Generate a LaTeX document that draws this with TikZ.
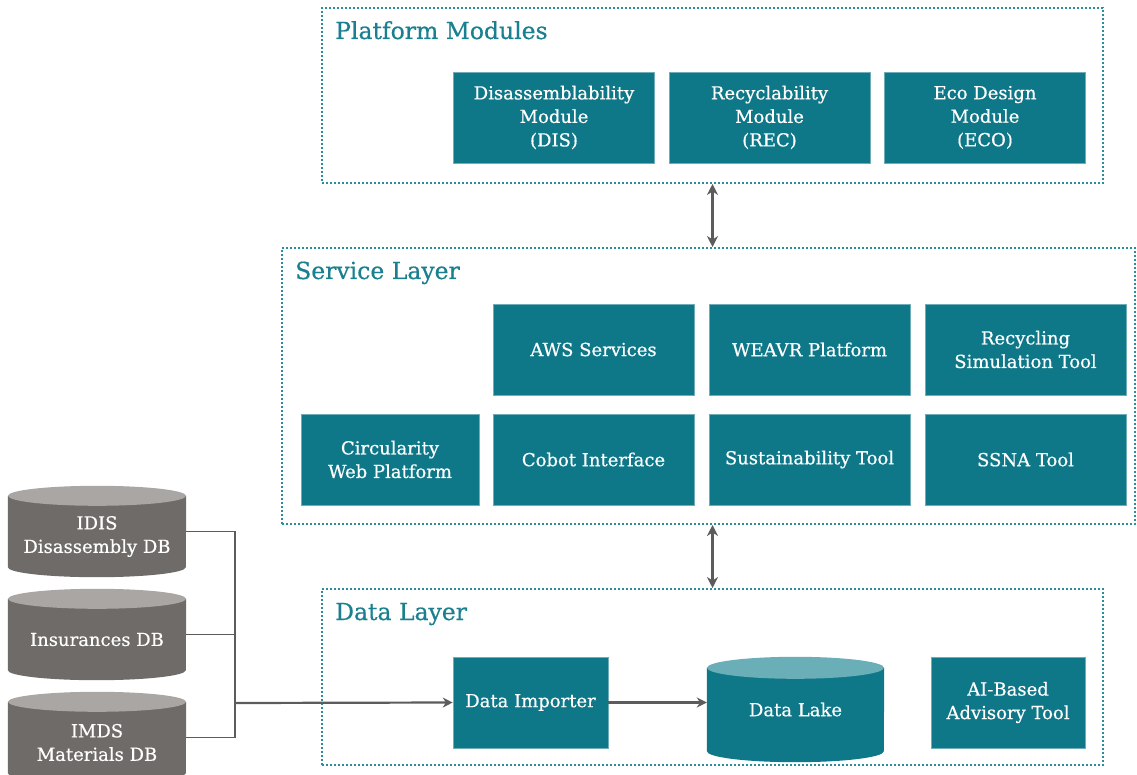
\documentclass[tikz,border=0pt]{standalone}
\usepackage{fontspec}
\setmainfont{DejaVu Serif}[FakeBold=0.5]
\usetikzlibrary{arrows.meta}
\pgfdeclarelayer{background}
\pgfsetlayers{background,main}

\definecolor{boxteal}{HTML}{0F7888}
\definecolor{titleteal}{HTML}{1A7F8E}
\definecolor{dotteal}{HTML}{2A8D9B}
\definecolor{laketop}{HTML}{6AAEB8}
\definecolor{dbbody}{HTML}{6F6B68}
\definecolor{dbtop}{HTML}{A9A6A4}
\definecolor{linegrey}{HTML}{5C5C5C}

% cylinder drawn behind a named rectangular node:
% #1 node name, #2 body colour, #3 top colour, #4 x radius, #5 y radius,
% #6 distance from the node's top edge down to the centre of the top face
\newcommand\drumshape[6]{%
  \begin{pgfonlayer}{background}
    \fill[#2] ([yshift=-#6]#1.north west) -- ([yshift=#5]#1.south west)
      arc[start angle=180,end angle=360,x radius=#4,y radius=#5]
      -- ([yshift=-#6]#1.north east) -- cycle;
    \fill[#3] ([yshift=-#6]#1.north) ellipse[x radius=#4,y radius=#5];
  \end{pgfonlayer}}

\begin{document}
\begin{tikzpicture}[x=1pt,y=-1pt,
  frame/.style={draw=dotteal,line width=2pt,dash pattern=on 2pt off 2pt,
    inner sep=0,fill=none},
  layertitle/.style={text=titleteal,anchor=base west,inner sep=0,
    font=\fontsize{23.5}{28}\selectfont},
  module/.style={fill=boxteal,draw=boxteal!60!white,line width=0.6pt,text=white,
    inner sep=0,align=center,minimum width=201pt,minimum height=91pt,
    font=\fontsize{18}{23.5}\selectfont},
  drum/.style={text=white,inner sep=0,align=center,minimum width=178pt,
    minimum height=91pt,font=\fontsize{18}{23.5}\selectfont},
  biarrow/.style={draw=linegrey,line width=2.4pt,{Stealth[length=11pt,width=11pt]}-{Stealth[length=11pt,width=11pt]}},
  feed/.style={draw=linegrey,line width=2.2pt,-{Stealth[length=10pt,width=10pt]}},
  link/.style={draw=linegrey,line width=1.6pt}]

\useasboundingbox (0,0) rectangle (1137,775);

% layer frames
\node[frame,minimum width=781pt,minimum height=175pt] (pm) at (712.5,95.5) {};
\node[frame,minimum width=853pt,minimum height=276pt] (sl) at (708.5,386) {};
\node[frame,minimum width=781pt,minimum height=176pt] (dl) at (712.5,677) {};

\node[layertitle] (pmt) at (335,39) {Platform Modules};
\node[layertitle] (slt) at (295,279) {Service Layer};
\node[layertitle] (dlt) at (335,620) {Data Layer};

% platform modules
\node[module] (dis) at (554,117.5) {Disassemblability\\Module\\(DIS)};
\node[module] (rec) at (769.5,117.5) {Recyclability\\Module\\(REC)};
\node[module] (eco) at (985,117.5) {Eco Design\\Module\\(ECO)};

% service layer
\node[module] (aws) at (593.5,349.5) {AWS Services};
\node[module] (weavr) at (809.5,349.5) {WEAVR Platform};
\node[module] (rst) at (1025.5,349.5) {Recycling\\Simulation Tool};
\node[module,minimum width=178pt] (cwp) at (390,459.5) {Circularity\\Web Platform};
\node[module] (cobot) at (593.5,459.5) {Cobot Interface};
\node[module] (sust) at (809.5,459.5) {Sustainability Tool};
\node[module] (ssna) at (1025.5,459.5) {SSNA Tool};

% data layer
\node[module,minimum width=155pt] (imp) at (530.5,702.5) {Data Importer};
\node[drum,minimum width=177pt,minimum height=105pt] (lake) at (795.5,709.5) {Data Lake};
\drumshape{lake}{boxteal}{laketop}{88.5pt}{11pt}{11pt}
\node[module,minimum width=154pt] (ai) at (1008,702.5) {AI-Based\\Advisory Tool};

% external databases (node box starts at the centre of the top face)
\node[drum,minimum height=81pt] (idis) at (97,536.5) {IDIS\\Disassembly DB};
\drumshape{idis}{dbbody}{dbtop}{89pt}{10pt}{0pt}
\node[drum,minimum height=81pt] (ins) at (97,639.5) {Insurances DB};
\drumshape{ins}{dbbody}{dbtop}{89pt}{10pt}{0pt}
\node[drum,minimum height=81pt] (imds) at (97,742.5) {IMDS\\Materials DB};
\drumshape{imds}{dbbody}{dbtop}{89pt}{10pt}{0pt}

% connectors
\coordinate (junc) at (235,703);
\draw[link] ([yshift=5pt]idis.east) -- ([yshift=5pt]idis.east -| junc)
  -- ([yshift=5pt]imds.east -| junc) -- ([yshift=5pt]imds.east);
\draw[link] ([yshift=5pt]ins.east) -- ([yshift=5pt]ins.east -| junc);
\draw[feed] (junc) -- (imp.west);
\draw[feed] (imp.east) -- (lake.west |- imp.east);
\draw[biarrow] (pm.south) -- (pm.south |- sl.north);
\draw[biarrow] (dl.north |- sl.south) -- (dl.north);
\end{tikzpicture}
\end{document}
